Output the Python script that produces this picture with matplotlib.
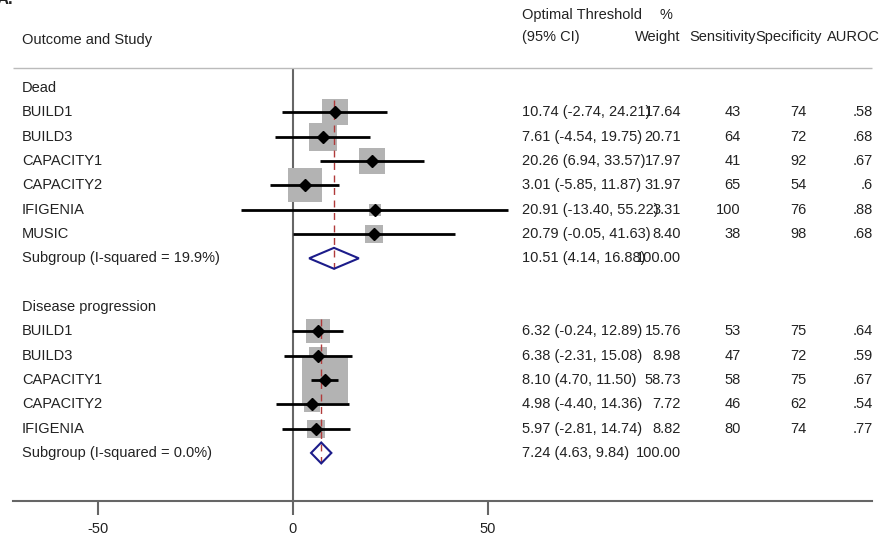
import numpy as np
import matplotlib.pyplot as plt
import matplotlib.transforms as mtransforms
from matplotlib.patches import Polygon

plt.rcParams['font.family'] = ['Liberation Sans', 'DejaVu Sans']

# data
groups = ["Dead", "Disease progression"]
studies = [
    ["BUILD1", "BUILD3", "CAPACITY1", "CAPACITY2", "IFIGENIA", "MUSIC"],
    ["BUILD1", "BUILD3", "CAPACITY1", "CAPACITY2", "IFIGENIA"],
]
est = [[10.74, 7.61, 20.26, 3.01, 20.91, 20.79],
       [6.32, 6.38, 8.10, 4.98, 5.97]]
lo = [[-2.74, -4.54, 6.94, -5.85, -13.40, -0.05],
      [-0.24, -2.31, 4.70, -4.40, -2.81]]
hi = [[24.21, 19.75, 33.57, 11.87, 55.22, 41.63],
      [12.89, 15.08, 11.50, 14.36, 14.74]]
weight = [[17.64, 20.71, 17.97, 31.97, 3.31, 8.40],
          [15.76, 8.98, 58.73, 7.72, 8.82]]
sens = [[43, 64, 41, 65, 100, 38], [53, 47, 58, 46, 80]]
spec = [[74, 72, 92, 54, 76, 98], [75, 72, 75, 62, 74]]
auroc = [[0.58, 0.68, 0.67, 0.6, 0.88, 0.68], [0.64, 0.59, 0.67, 0.54, 0.77]]
sub_label = ["Subgroup (I-squared = 19.9%)", "Subgroup (I-squared = 0.0%)"]
sub_est = [10.51, 7.24]
sub_lo = [4.14, 4.63]
sub_hi = [16.88, 9.84]

W, H = 887, 540
fig = plt.figure(figsize=(W / 100, H / 100), dpi=100)
ax = fig.add_axes([0, 0, 1, 1])

ppu = 3.9       # pixels per threshold unit
zero_px = 293
row_h = 24.33
row0_px = 88
ax.set_xlim(-zero_px / ppu, (W - zero_px) / ppu)
ax.set_ylim((H - row0_px) / row_h, -row0_px / row_h)


def prow(p):
    return (p - row0_px) / row_h


def pxx(p):
    return (p - zero_px) / ppu


tx = mtransforms.blended_transform_factory(ax.transAxes, ax.transData)
tc = '#222222'
fs = 10.5


def put(xpx, y, s, ha='left'):
    ax.text(xpx / W, y, s, transform=tx, ha=ha, va='center', fontsize=fs, color=tc)


def fmt_auc(v):
    return f"{v:g}".lstrip('0')


# headers
put(522, prow(15), "Optimal Threshold")
put(660, prow(15), "%")
put(22, prow(40), "Outcome and Study")
put(522, prow(37), "(95% CI)")
put(635, prow(37), "Weight")
put(689, prow(37), "Sensitivity")
put(755, prow(37), "Specificity")
put(827, prow(37), "AUROC")

ax.hlines(prow(68), pxx(13), pxx(872), color='#bbbbbb', lw=1)
ax.vlines(0, prow(68), prow(501), color='#666666', lw=1.5, zorder=1)

row = 0
k = 6.1
for g in range(len(groups)):
    put(22, row, groups[g])
    first = row + 1
    for i, name in enumerate(studies[g]):
        r = first + i
        put(22, r, name)
        ax.scatter(est[g][i], r, marker='s', s=(k * np.sqrt(weight[g][i]) * 0.72) ** 2,
                   color='#b3b3b3', linewidths=0, zorder=2)
        ax.hlines(r, lo[g][i], hi[g][i], color='black', lw=2, zorder=4)
        ax.plot(est[g][i], r, 'D', color='black', ms=6, zorder=5)
        put(522, r, f"{est[g][i]:.2f} ({lo[g][i]:.2f}, {hi[g][i]:.2f})")
        put(681, r, f"{weight[g][i]:.2f}", ha='right')
        put(741, r, str(sens[g][i]), ha='right')
        put(807, r, str(spec[g][i]), ha='right')
        put(873, r, fmt_auc(auroc[g][i]), ha='right')
    sr = first + len(studies[g])
    put(22, sr, sub_label[g])
    put(522, sr, f"{sub_est[g]:.2f} ({sub_lo[g]:.2f}, {sub_hi[g]:.2f})")
    put(681, sr, "100.00", ha='right')
    dh = 0.43
    ax.add_patch(Polygon([(sub_lo[g], sr), (sub_est[g], sr - dh), (sub_hi[g], sr),
                          (sub_est[g], sr + dh)], closed=True, fill=False,
                         edgecolor='#1c1c8a', lw=1.5, zorder=4))
    ax.vlines(sub_est[g], first - 0.5, sr + dh, color='#b03a3a', lw=1,
              linestyles=(0, (5, 4)), zorder=3)
    row = sr + 2

for s in ['left', 'right', 'top']:
    ax.spines[s].set_visible(False)
ax.spines['bottom'].set_position(('data', prow(501)))
ax.spines['bottom'].set_bounds(pxx(13), pxx(872))
ax.spines['bottom'].set_color('#666666')
ax.spines['bottom'].set_linewidth(1.5)
ax.set_xticks([-50, 0, 50])
ax.set_xticklabels(['-50', '0', '50'])
ax.tick_params(axis='x', direction='out', length=10, width=1.5, color='#666666',
               labelsize=fs, labelcolor=tc, pad=5)
ax.set_yticks([])

fig.text(-3 / W, 1.0, "A.", fontsize=12, fontweight='bold', va='center', color=tc)

fig.savefig('out.png', dpi=100)
